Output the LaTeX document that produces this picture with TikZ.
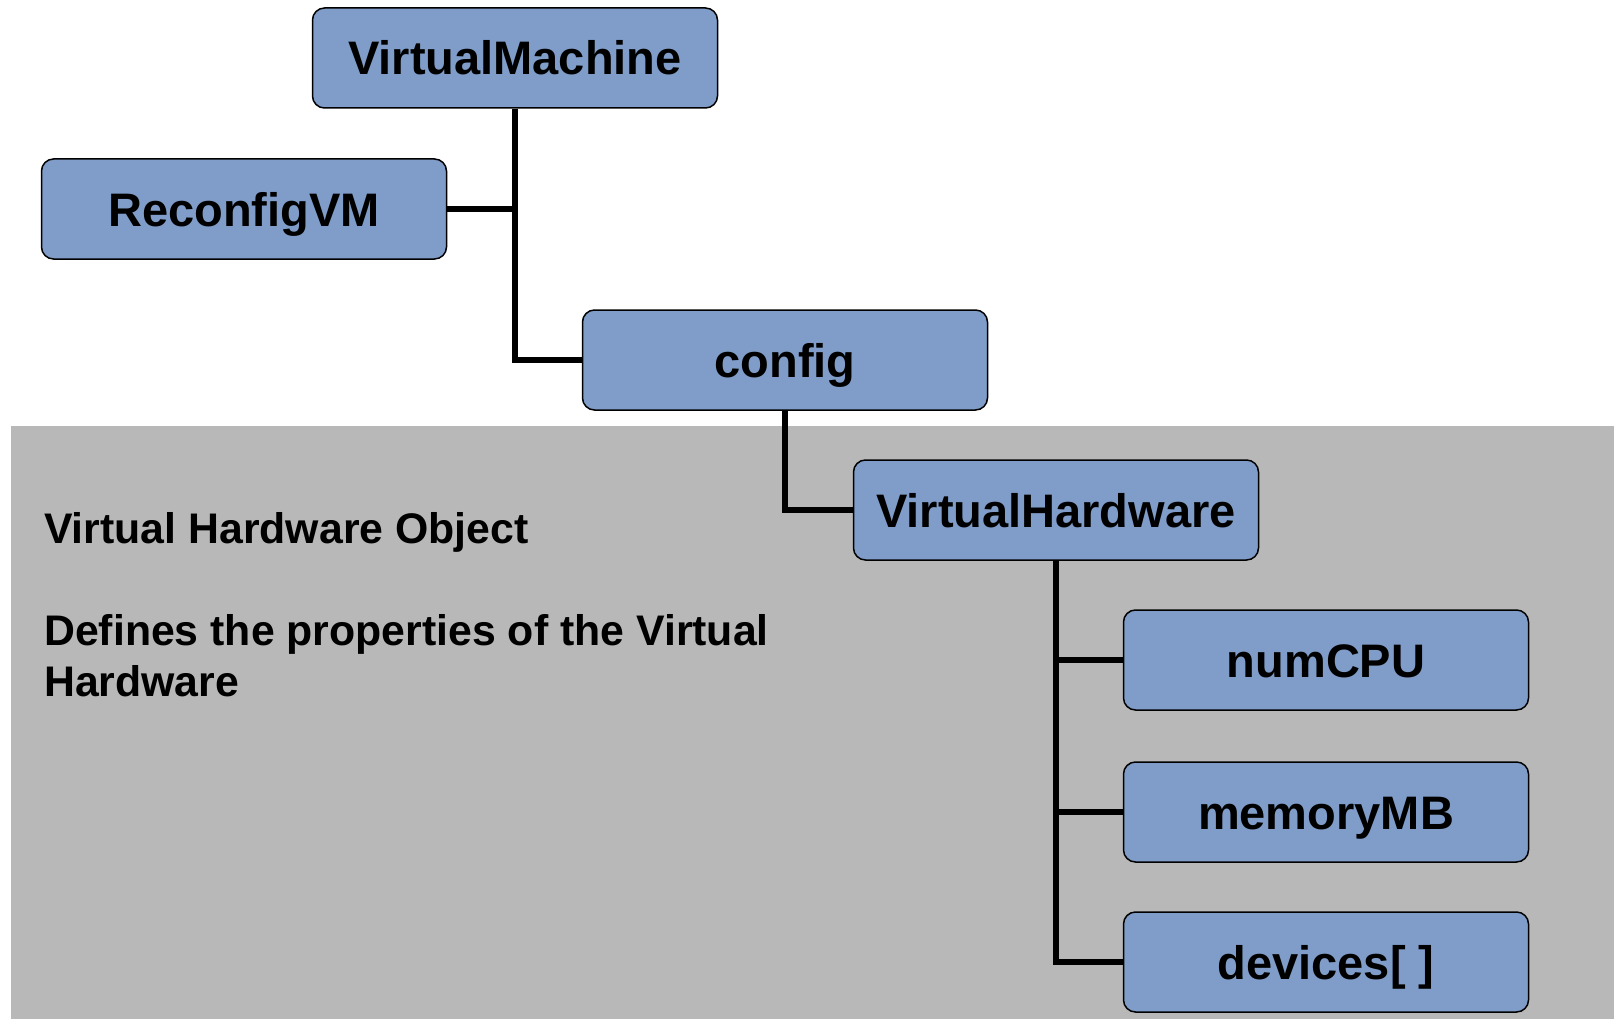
\documentclass[tikz,border=0pt]{standalone}
\usepackage{fontspec}
\setmainfont{Liberation Sans}
\definecolor{boxblue}{RGB}{127,157,200}
\definecolor{panelgray}{RGB}{184,184,184}
\begin{document}
\begin{tikzpicture}[x=1pt,y=-1pt,
  objbox/.style={draw=black, line width=1.5pt, fill=boxblue, rounded corners=12pt,
    minimum width=405pt, minimum height=100pt, inner sep=0pt,
    text height=34pt, text depth=0pt,
    font=\fontsize{47}{52}\selectfont\bfseries},
  link/.style={draw=black, line width=5.5pt}]
  \useasboundingbox (0,0) rectangle (1614,1019);
  % shaded panel behind the hardware part of the tree
  \fill[panelgray] (11,426) rectangle (1614,1019);

  % description of the panel
  \node[anchor=north west, align=left, inner sep=0pt,
        font=\fontsize{42.8}{51}\selectfont\bfseries] (desc) at (44,512)
    {Virtual Hardware Object\\[51pt]Defines the properties of the Virtual\\Hardware};

  % object tree
  \node[objbox] (vm)      at (515,58)   {VirtualMachine};
  \node[objbox] (reconf)  at (244,209)  {ReconfigVM};
  \node[objbox] (config)  at (785,360)  {config};
  \node[objbox] (vhw)     at (1056,510) {VirtualHardware};
  \node[objbox] (numcpu)  at (1326,660) {numCPU};
  \node[objbox] (mem)     at (1326,812) {memoryMB};
  \node[objbox] (devices) at (1326,962) {devices[ ]};

  % connectors
  \draw[link] (vm.south) |- (config.west);
  \draw[link] (reconf.east) -- (reconf.east -| vm.south);
  \draw[link] (config.south) |- (vhw.west);
  \draw[link] (vhw.south) |- (devices.west);
  \draw[link] (numcpu.west) -- (numcpu.west -| vhw.south);
  \draw[link] (mem.west) -- (mem.west -| vhw.south);
\end{tikzpicture}
\end{document}
